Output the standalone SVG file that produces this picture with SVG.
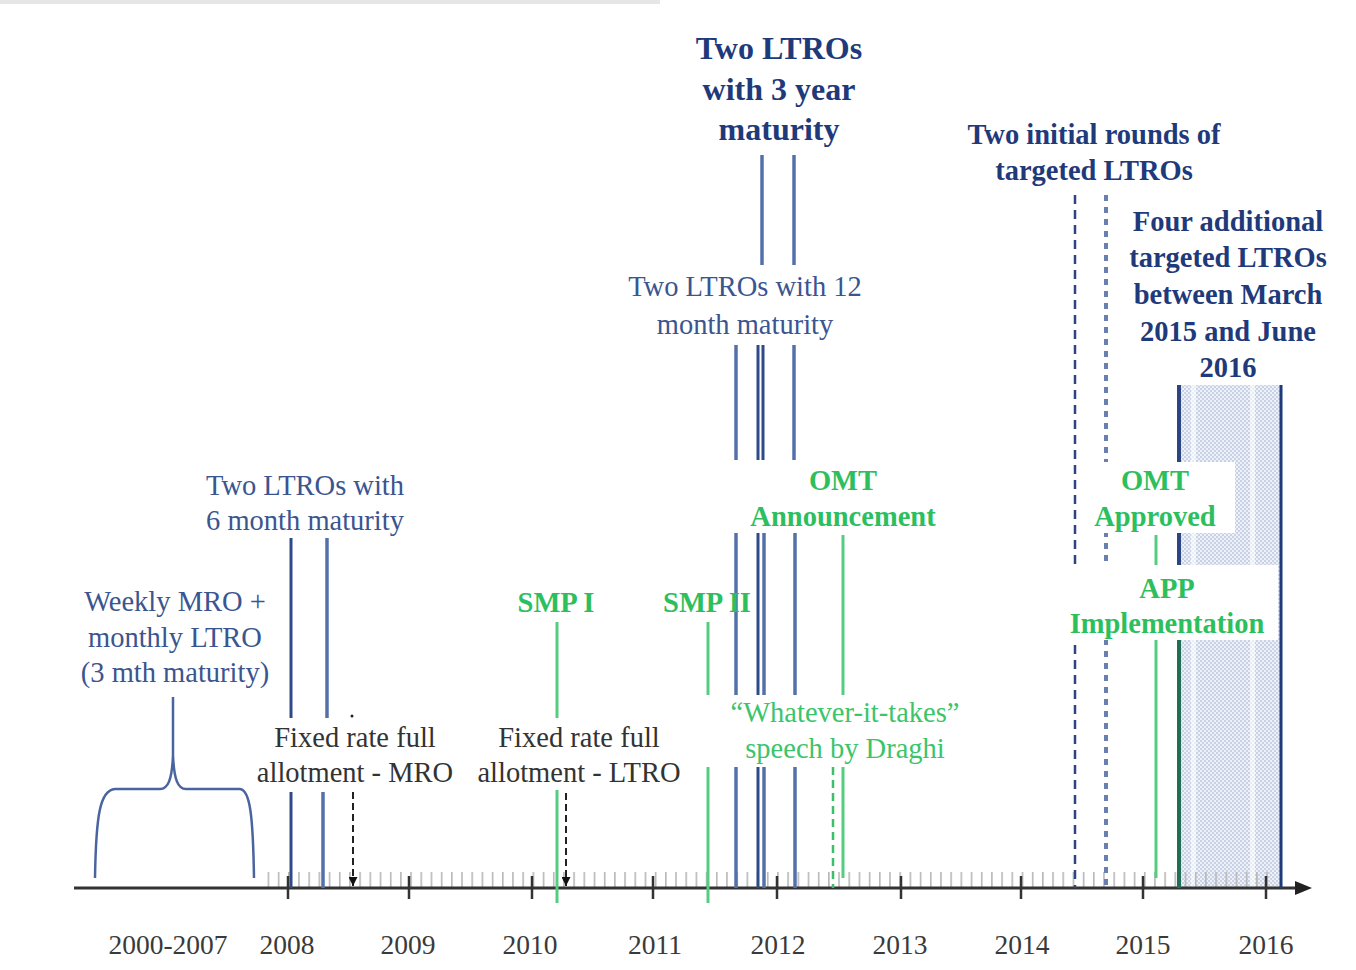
<svg xmlns="http://www.w3.org/2000/svg" width="1356" height="970" viewBox="0 0 1356 970">
<style>
.t{font-family:"Liberation Serif","Times New Roman",serif;font-size:28.5px;text-anchor:middle}
.blue{fill:#3a5590}
.navy{fill:#1f3a7a;font-weight:bold}
.grn{fill:#2dbf5e;font-weight:bold}
.grnr{fill:#3cc46a}
.gray{fill:#333}
.year{font-size:27.5px;fill:#3a3a3a}
.bl{stroke:#2f4a88;stroke-width:3;fill:none}
.bl2{stroke:#5470a8;stroke-width:3.5;fill:none}
.gl{stroke:#55cc80;stroke-width:3;fill:none}
.ax{stroke:#333;stroke-width:3;fill:none}
.maj{stroke:#333;stroke-width:2.5}
.darr{stroke:#222;stroke-width:2;stroke-dasharray:7 4;fill:none}
</style>
<defs>
<pattern id="ticks" patternUnits="userSpaceOnUse" x="267.6" y="0" width="10.19" height="970">
<rect x="0" y="0" width="1.6" height="970" fill="#b8b8b8"/>
</pattern>
<pattern id="dots" patternUnits="userSpaceOnUse" width="4" height="4">
<rect width="4" height="4" fill="#eef1f7"/>
<rect width="2" height="2" fill="#c9d2e4"/>
<rect x="2" y="2" width="2" height="2" fill="#c9d2e4"/>
</pattern>
<marker id="ah" markerWidth="9" markerHeight="9" refX="9" refY="4.5" orient="auto" markerUnits="userSpaceOnUse" viewBox="0 0 9 9">
<path d="M0,0 L9,4.5 L0,9 Z" fill="#111"/>
</marker>
</defs>
<rect width="1356" height="970" fill="#fff"/>
<rect x="0" y="0" width="660" height="4" fill="#e6e6e6"/>

<g id="shaded-period">
<rect x="1178" y="385" width="103" height="503" fill="url(#dots)"/>
<rect x="1191" y="385" width="5" height="503" fill="#fff" opacity="0.6"/>
<rect x="1250" y="385" width="5" height="503" fill="#fff" opacity="0.6"/>
</g>

<g id="axis">
<rect x="267" y="872" width="1005" height="16" fill="url(#ticks)"/>
<line class="ax" x1="74" y1="888" x2="1300" y2="888"/>
<polygon points="1312,888 1295,881 1295,895" fill="#222"/>
<g class="maj">
<line x1="288" y1="876" x2="288" y2="899"/>
<line x1="409" y1="876" x2="409" y2="899"/>
<line x1="532" y1="876" x2="532" y2="899"/>
<line x1="653" y1="876" x2="653" y2="899"/>
<line x1="777" y1="876" x2="777" y2="899"/>
<line x1="901" y1="876" x2="901" y2="899"/>
<line x1="1021" y1="876" x2="1021" y2="899"/>
<line x1="1143" y1="876" x2="1143" y2="899"/>
<line x1="1266" y1="876" x2="1266" y2="899"/>
</g>
</g>

<g id="connectors">
<path d="M95,878 C96,815 100,790 115,789 L160,789 C168,789 172,780 173,755 L173,697 M173,755 C174,780 178,789 186,789 L240,789 C250,790 253,815 254,878" stroke="#4a64a0" stroke-width="2.5" fill="none"/>
<line class="bl" x1="291" y1="538" x2="291" y2="718"/>
<line class="bl" x1="291" y1="792" x2="291" y2="888"/>
<line class="bl2" x1="327" y1="538" x2="327" y2="718"/>
<line class="bl2" x1="323" y1="792" x2="323" y2="888"/>
<circle cx="352" cy="716" r="1.5" fill="#222"/>
<line class="darr" x1="353" y1="792" x2="353" y2="886" marker-end="url(#ah)"/>
<line class="darr" x1="566" y1="793" x2="566" y2="886" marker-end="url(#ah)"/>
<line class="gl" x1="557" y1="622" x2="557" y2="718"/>
<line class="gl" x1="557" y1="790" x2="557" y2="903"/>
<line class="gl" x1="708" y1="622" x2="708" y2="695"/>
<line class="gl" x1="708" y1="767" x2="708" y2="903"/>
<line class="bl2" x1="762" y1="155" x2="762" y2="265"/>
<line class="bl2" x1="794" y1="155" x2="794" y2="265"/>
<line class="bl2" x1="736" y1="345" x2="736" y2="460"/>
<line class="bl" x1="758" y1="345" x2="758" y2="460"/>
<line class="bl" x1="763" y1="345" x2="763" y2="460"/>
<line class="bl2" x1="794" y1="345" x2="794" y2="460"/>
<line class="bl2" x1="736" y1="533" x2="736" y2="695"/>
<line class="bl" x1="758" y1="533" x2="758" y2="695"/>
<line class="bl2" x1="764" y1="533" x2="764" y2="695"/>
<line class="bl2" x1="795" y1="533" x2="795" y2="695"/>
<line class="bl2" x1="736" y1="767" x2="736" y2="888"/>
<line class="bl" x1="758" y1="767" x2="758" y2="888"/>
<line class="bl2" x1="764" y1="767" x2="764" y2="888"/>
<line class="bl2" x1="795" y1="767" x2="795" y2="888"/>
<line class="gl" x1="843" y1="535" x2="843" y2="695"/>
<line class="gl" x1="843" y1="767" x2="843" y2="878"/>
<line x1="833" y1="767" x2="833" y2="888" stroke="#3cbf68" stroke-width="2.5" stroke-dasharray="8 5"/>
<line x1="1075" y1="195" x2="1075" y2="888" stroke="#2c4582" stroke-width="2.5" stroke-dasharray="9 6"/>
<line x1="1106" y1="195" x2="1106" y2="888" stroke="#6a7fb0" stroke-width="4" stroke-dasharray="6 6"/>
<line x1="1179" y1="385" x2="1179" y2="888" stroke="#2c4582" stroke-width="4"/>
<line x1="1281" y1="385" x2="1281" y2="888" stroke="#1f3a7a" stroke-width="3"/>
</g>

<g id="omt-approved-box"><rect x="1090" y="462" width="145" height="71" fill="#fff"/></g>
<g id="app-box"><rect x="1060" y="565" width="218" height="75" fill="#fff"/></g>

<g id="connectors-2015">
<line class="gl" x1="1156" y1="535" x2="1156" y2="565"/>
<line class="gl" x1="1156" y1="640" x2="1156" y2="878"/>
<line x1="1179" y1="640" x2="1179" y2="888" stroke="#1e6f55" stroke-width="4"/>
</g>

<g id="ltro-3y"><text class="t navy" style="font-size:32px" x="779" y="59">Two LTROs</text><text class="t navy" style="font-size:32px" x="779" y="100">with 3 year</text><text class="t navy" style="font-size:32px" x="779" y="140">maturity</text></g>
<g id="tltro-initial"><text class="t navy" x="1094" y="144">Two initial rounds of</text><text class="t navy" x="1094" y="180">targeted LTROs</text></g>
<g id="tltro-additional"><text class="t navy" x="1228" y="231">Four additional</text><text class="t navy" x="1228" y="267">targeted LTROs</text><text class="t navy" x="1228" y="304">between March</text><text class="t navy" x="1228" y="341">2015 and June</text><text class="t navy" x="1228" y="377">2016</text></g>
<g id="ltro-12m"><text class="t blue" x="745" y="296">Two LTROs with 12</text><text class="t blue" x="745" y="334">month maturity</text></g>
<g id="omt-announcement"><text class="t grn" x="843" y="490">OMT</text><text class="t grn" x="843" y="526">Announcement</text></g>
<g id="omt-approved"><text class="t grn" x="1155" y="490">OMT</text><text class="t grn" x="1155" y="526">Approved</text></g>
<g id="app"><text class="t grn" x="1167" y="598">APP</text><text class="t grn" x="1167" y="633">Implementation</text></g>
<g id="ltro-6m"><text class="t blue" x="305" y="495">Two LTROs with</text><text class="t blue" x="305" y="530">6 month maturity</text></g>
<g id="weekly-mro"><text class="t blue" x="175" y="611">Weekly MRO +</text><text class="t blue" x="175" y="647">monthly LTRO</text><text class="t blue" x="175" y="682">(3 mth maturity)</text></g>
<g id="smp1"><text class="t grn" x="556" y="612">SMP I</text></g>
<g id="smp2"><text class="t grn" x="707" y="612">SMP II</text></g>
<g id="whatever"><text class="t grnr" x="845" y="722">“Whatever-it-takes”</text><text class="t grnr" x="845" y="758">speech by Draghi</text></g>
<g id="frfa-mro"><text class="t gray" x="355" y="747">Fixed rate full</text><text class="t gray" x="355" y="782">allotment - MRO</text></g>
<g id="frfa-ltro"><text class="t gray" x="579" y="747">Fixed rate full</text><text class="t gray" x="579" y="782">allotment - LTRO</text></g>

<g id="years">
<text class="t year" x="168" y="954">2000-2007</text>
<text class="t year" x="287" y="954">2008</text>
<text class="t year" x="408" y="954">2009</text>
<text class="t year" x="530" y="954">2010</text>
<text class="t year" x="655" y="954">2011</text>
<text class="t year" x="778" y="954">2012</text>
<text class="t year" x="900" y="954">2013</text>
<text class="t year" x="1022" y="954">2014</text>
<text class="t year" x="1143" y="954">2015</text>
<text class="t year" x="1266" y="954">2016</text>
</g>
</svg>
